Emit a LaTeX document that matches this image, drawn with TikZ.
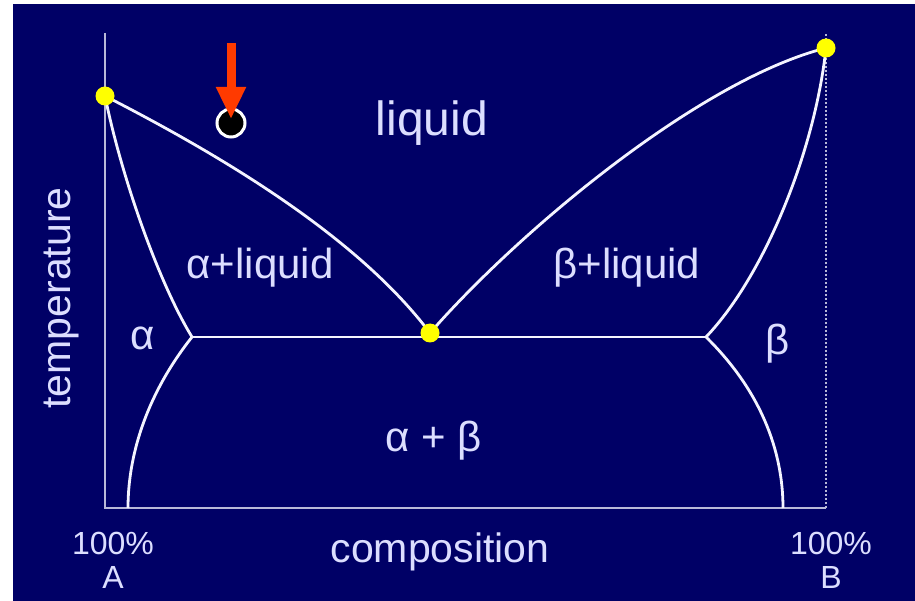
\documentclass[tikz,border=0pt]{standalone}
\usepackage{fontspec}
\setmainfont{Liberation Sans}
\usetikzlibrary{arrows.meta,positioning,calc}
\definecolor{Navy}{HTML}{000066}
\definecolor{Ink}{HTML}{DCDEFF}
\definecolor{Line}{HTML}{F4F4FF}
\definecolor{Axis}{HTML}{B8B8D8}
\definecolor{Dot}{HTML}{FFFF00}
\definecolor{Fire}{HTML}{FF3A00}
\tikzset{
  phase/.style={text=Ink,font=\fontsize{42}{42}\selectfont,inner sep=0pt},
  axislabel/.style={text=Ink,font=\fontsize{41}{41}\selectfont,inner sep=0pt},
  ends/.style={text=Ink,font=\fontsize{32}{34}\selectfont,inner sep=0pt,align=center},
  boundary/.style={draw=Line,line width=2.8pt},
  axis/.style={draw=Axis,line width=2pt},
  point/.style={circle,fill=Dot,inner sep=0pt,minimum size=19pt}
}
\begin{document}
\begin{tikzpicture}[x=1pt,y=-1pt]
        \fill[white] (0,0) rectangle (915,601);
        \fill[Navy] (13,4) rectangle (915,601);
        \useasboundingbox (0,0) rectangle (915,601);
        % axes
        \coordinate (top A) at (105,33);
        \coordinate (bot A) at (105,508);
        \coordinate (top B) at (826,33);
        \coordinate (bot B) at (826,508);
        \draw[axis] (top A) -- (bot A) -- (bot B);
        \draw[axis,dotted] (bot B) -- (top B);
        % key points of the diagram
        \coordinate (melt A) at (105,96);
        \coordinate (melt B) at (826,48);
        \coordinate (eut) at (430,333);
        \coordinate (lim A) at (192,337);
        \coordinate (lim B) at (706,337);
        \coordinate (solv A) at (128,508);
        \coordinate (solv B) at (783,508);
        \draw[boundary] (melt A) .. controls (230,160) and (360,240) .. (eut);
        \draw[boundary] (eut) .. controls (520,230) and (700,80) .. (melt B);
        \draw[boundary] (melt A) .. controls (122,180) and (160,285) .. (lim A);
        \draw[boundary] (lim A) .. controls (150,390) and (128,450) .. (solv A);
        \draw[boundary] (melt B) .. controls (815,150) and (765,275) .. (lim B);
        \draw[boundary] (lim B) .. controls (760,390) and (783,450) .. (solv B);
        \draw[boundary] (lim A) -- (lim B);
        \node[point] (dot A) at (melt A) {};
        \node[point] (dot B) at (melt B) {};
        \node[point] (dot E) at (eut) {};
        % cooling sample
        \node[circle,fill=black,draw=white,line width=3pt,minimum size=28pt,inner sep=0pt] (sample) at (231,123) {};
        \coordinate (drop) at (231,43);
        \draw[-{Triangle[width=28pt,length=32pt]},Fire,line width=9pt] (drop) -- ([yshift=4pt]sample.center);
        % phase labels
        \node[phase,font=\fontsize{48}{48}\selectfont] (liq) at (432,123) {liquid};
        \node[phase] (a liq) at (260,268) {α+liquid};
        \node[phase] (b liq) at (627,268) {β+liquid};
        \node[phase] (alpha) at (143,338) {α};
        \node[phase] (beta) at (778,344) {β};
        \node[phase] (ab) at (434,441) {α + β};
        \node[axislabel,rotate=90] (temp) at (62,298) {temperature};
        \node[axislabel] (comp) at (440,552) {composition};
        \node[ends] (pA) at (113,560) {100\%\\A};
        \node[ends] (pB) at (831,560) {100\%\\B};
      \end{tikzpicture}
\end{document}
